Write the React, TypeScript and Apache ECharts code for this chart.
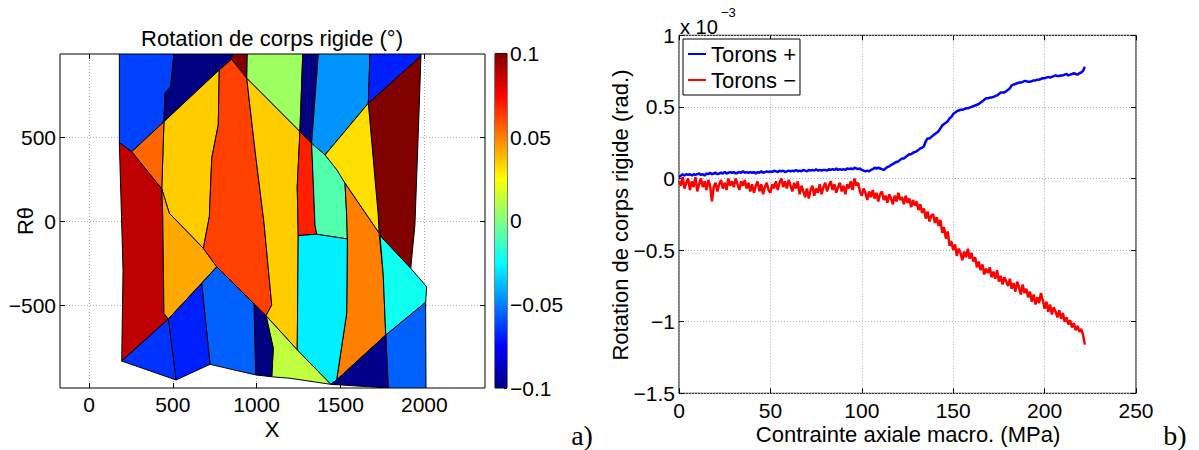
import React, { useEffect, useRef } from 'react';
import * as echarts from 'echarts';

// ---------- Right panel data (stress in MPa, rotation in 1e-3 rad) ----------
const stress = [
  0, 1, 2, 3, 4, 5, 6, 7, 8, 9,
  10, 11, 12, 13, 14, 15, 16, 17, 18, 19,
  20, 21, 22, 23, 24, 25, 26, 27, 28, 29,
  30, 31, 32, 33, 34, 35, 36, 37, 38, 39,
  40, 41, 42, 43, 44, 45, 46, 47, 48, 49,
  50, 51, 52, 53, 54, 55, 56, 57, 58, 59,
  60, 61, 62, 63, 64, 65, 66, 67, 68, 69,
  70, 71, 72, 73, 74, 75, 76, 77, 78, 79,
  80, 81, 82, 83, 84, 85, 86, 87, 88, 89,
  90, 91, 92, 93, 94, 95, 96, 97, 98, 99,
  100, 101, 102, 103, 104, 105, 106, 107, 108, 109,
  110, 111, 112, 113, 114, 115, 116, 117, 118, 119,
  120, 121, 122, 123, 124, 125, 126, 127, 128, 129,
  130, 131, 132, 133, 134, 135, 136, 137, 138, 139,
  140, 141, 142, 143, 144, 145, 146, 147, 148, 149,
  150, 151, 152, 153, 154, 155, 156, 157, 158, 159,
  160, 161, 162, 163, 164, 165, 166, 167, 168, 169,
  170, 171, 172, 173, 174, 175, 176, 177, 178, 179,
  180, 181, 182, 183, 184, 185, 186, 187, 188, 189,
  190, 191, 192, 193, 194, 195, 196, 197, 198, 199,
  200, 201, 202, 203, 204, 205, 206, 207, 208, 209,
  210, 211, 212, 213, 214, 215, 216, 217, 218, 219,
  220, 221, 222,
];
const toronsPlus = [
  0.01, 0.02, 0.03, 0.02, 0.03, 0.025, 0.03, 0.02, 0.03, 0.025,
  0.03, 0.035, 0.025, 0.03, 0.02, 0.035, 0.03, 0.04, 0.03, 0.035,
  0.04, 0.03, 0.035, 0.04, 0.035, 0.045, 0.035, 0.04, 0.045, 0.04,
  0.045, 0.035, 0.04, 0.045, 0.04, 0.05, 0.04, 0.045, 0.04, 0.045,
  0.04, 0.045, 0.035, 0.045, 0.04, 0.05, 0.04, 0.045, 0.05, 0.045,
  0.05, 0.045, 0.055, 0.05, 0.045, 0.055, 0.05, 0.055, 0.045, 0.05,
  0.055, 0.05, 0.055, 0.05, 0.06, 0.05, 0.055, 0.05, 0.06, 0.055,
  0.05, 0.06, 0.055, 0.06, 0.055, 0.065, 0.055, 0.06, 0.055, 0.06,
  0.06, 0.055, 0.065, 0.06, 0.065, 0.06, 0.07, 0.06, 0.065, 0.06,
  0.065, 0.06, 0.07, 0.065, 0.07, 0.065, 0.075, 0.07, 0.065, 0.07,
  0.06, 0.055, 0.05, 0.055, 0.05, 0.06, 0.065, 0.075, 0.07, 0.075,
  0.07, 0.065, 0.06, 0.07, 0.08, 0.085, 0.095, 0.1, 0.11, 0.115,
  0.12, 0.13, 0.14, 0.14, 0.15, 0.16, 0.17, 0.17, 0.18, 0.185,
  0.19, 0.2, 0.21, 0.215, 0.225, 0.26, 0.28, 0.28, 0.29, 0.3,
  0.31, 0.32, 0.33, 0.35, 0.37, 0.38, 0.39, 0.4, 0.42, 0.43,
  0.45, 0.46, 0.47, 0.475, 0.48, 0.48, 0.485, 0.49, 0.49, 0.495,
  0.5, 0.505, 0.51, 0.515, 0.52, 0.53, 0.54, 0.55, 0.56, 0.56,
  0.565, 0.565, 0.57, 0.575, 0.58, 0.59, 0.6, 0.6, 0.6, 0.61,
  0.62, 0.63, 0.65, 0.655, 0.66, 0.665, 0.67, 0.67, 0.675, 0.68,
  0.68, 0.675, 0.675, 0.68, 0.685, 0.685, 0.69, 0.69, 0.695, 0.7,
  0.7, 0.705, 0.71, 0.705, 0.71, 0.715, 0.72, 0.715, 0.715, 0.72,
  0.72, 0.725, 0.73, 0.72, 0.725, 0.73, 0.735, 0.73, 0.725, 0.735,
  0.74, 0.75, 0.78,
];
const toronsMinus = [
  -0.02, -0.05, 0.01, -0.07, -0.03, 0.0, -0.08, -0.02, -0.06, 0.01,
  -0.09, -0.04, 0.0, -0.06, -0.02, -0.08, -0.01, -0.05, -0.16, -0.06,
  -0.03, -0.09, -0.04, -0.01, -0.07, -0.03, -0.08, 0.0, -0.05, -0.02,
  -0.06, 0.0, -0.04, -0.08, -0.02, -0.05, -0.01, -0.07, -0.03, -0.09,
  -0.04, -0.1, -0.05, -0.02, -0.09, -0.04, -0.11, -0.06, -0.03, -0.08,
  -0.1, -0.04, -0.07, -0.02, -0.08, -0.03, 0.0, -0.06, -0.02, -0.07,
  -0.01, -0.05, -0.09, -0.03, -0.07, -0.02, -0.11, -0.05, -0.09, -0.13,
  -0.07, -0.14, -0.08, -0.05, -0.12, -0.07, -0.1, -0.04, -0.11, -0.06,
  -0.03, -0.09, -0.05, -0.02, -0.08, -0.04, -0.1, -0.06, -0.03, -0.09,
  -0.05, -0.11, -0.04, -0.07, -0.02, -0.08, 0.0, -0.05, -0.03, -0.09,
  -0.12, -0.07, -0.1, -0.15, -0.09, -0.13, -0.08, -0.14, -0.1, -0.16,
  -0.11, -0.09, -0.15, -0.12, -0.17, -0.11, -0.14, -0.18, -0.12, -0.16,
  -0.1, -0.15, -0.13, -0.18, -0.12, -0.17, -0.14, -0.2, -0.15, -0.19,
  -0.16, -0.22, -0.18, -0.24, -0.21, -0.28, -0.23, -0.3, -0.26, -0.25,
  -0.31, -0.27, -0.33, -0.29, -0.38, -0.34, -0.42, -0.37, -0.47, -0.44,
  -0.5, -0.46, -0.54, -0.49, -0.52, -0.57, -0.51, -0.55, -0.49, -0.56,
  -0.52, -0.58, -0.55, -0.62, -0.58, -0.64, -0.6, -0.67, -0.63, -0.66,
  -0.62, -0.69, -0.65, -0.7, -0.64, -0.72, -0.68, -0.74, -0.69, -0.72,
  -0.75, -0.7, -0.77, -0.73, -0.79, -0.72, -0.76, -0.81, -0.74, -0.8,
  -0.77, -0.83, -0.79, -0.86, -0.81, -0.88, -0.83, -0.87, -0.8, -0.85,
  -0.91, -0.86, -0.93, -0.88, -0.95, -0.9, -0.93, -0.97, -0.92, -0.98,
  -0.94, -1.0, -0.97, -1.02, -0.99, -1.04, -1.01, -1.06, -1.03, -1.07,
  -1.05, -1.09, -1.16,
];
const seriesNames = ['Torons +', 'Torons \u2212'];

// ---------- Left panel data (rigid body rotation per cell, in degrees) ----------
const mapXTicks = [0, 500, 1000, 1500, 2000];
const mapYTicks = [-500, 0, 500];
const CB_MIN = -0.1;
const CB_MAX = 0.1;
const cellValues = [
  -0.062, -0.1, 0.1, 0.035, 0.055, 0.0875, 0.042, 0.0625, 0.006, 0.035,
  -0.1, -0.046, -0.069, 0.1, 0.031, 0.069, -0.009, 0.05, -0.028, -0.022,
  -0.056, -0.098, 0.0125, -0.1, -0.056, -0.069, -0.065,
];
const cellVertices: number[][][] = [
  [[181, 997], [507, 997], [487, 802], [453, 763], [447, 593], [255, 414], [181, 468]],
  [[507, 997], [857, 997], [851, 965], [447, 593], [453, 763], [487, 802]],
  [[857, 997], [944, 997], [941, 852], [851, 965]],
  [[447, 593], [777, 902], [771, 574], [732, 375], [718, 27], [682, -162], [479, 47], [434, 192]],
  [[255, 414], [447, 593], [434, 192]],
  [[181, 468], [255, 414], [434, 192], [440, 37], [447, -550], [473, -584], [195, -834], [203, -291]],
  [[434, 192], [479, 47], [682, -162], [762, -272], [473, -584], [447, -550], [440, 37]],
  [[851, 965], [941, 852], [990, 425], [1044, -11], [1090, -500], [1056, -564], [762, -272], [682, -162], [718, 27], [732, 375], [771, 574], [777, 902]],
  [[944, 997], [1275, 997], [1258, 534], [941, 852]],
  [[941, 852], [1258, 534], [1242, 206], [1248, -86], [1242, -768], [1056, -564], [1090, -500], [1044, -11], [990, 425]],
  [[1275, 997], [1368, 997], [1328, 464], [1258, 534]],
  [[1368, 997], [1676, 997], [1666, 703], [1408, 395], [1328, 464]],
  [[1676, 997], [1980, 997], [1980, 985], [1666, 703]],
  [[1980, 985], [1964, 524], [1944, -23], [1919, -281], [1736, -87], [1725, 37], [1666, 703]],
  [[1666, 703], [1725, 37], [1730, -71], [1656, 37], [1527, 226], [1408, 395]],
  [[1258, 534], [1328, 464], [1348, -23], [1358, -78], [1248, -86], [1242, 206]],
  [[1328, 464], [1408, 395], [1479, 305], [1527, 226], [1537, 37], [1541, -106], [1358, -78], [1348, -23]],
  [[1527, 226], [1656, 37], [1730, -71], [1755, -321], [1770, -679], [1477, -947], [1537, -550], [1541, -106], [1537, 37]],
  [[1248, -86], [1358, -78], [1541, -106], [1537, -550], [1477, -947], [1442, -973], [1242, -768]],
  [[1736, -87], [1919, -281], [2014, -391], [2008, -484], [1770, -679], [1755, -321]],
  [[1770, -679], [2008, -484], [2010, -995], [1785, -995]],
  [[1442, -973], [1477, -947], [1770, -679], [1785, -995]],
  [[1056, -564], [1242, -768], [1442, -973], [1199, -937], [1090, -928], [1099, -758]],
  [[984, -494], [1056, -564], [1099, -758], [1090, -928], [994, -917]],
  [[762, -272], [984, -494], [994, -917], [722, -854], [672, -371]],
  [[473, -584], [672, -371], [722, -854], [519, -947]],
  [[195, -834], [473, -584], [519, -947]],
];

const FONT = '"Liberation Sans", Arial, Helvetica, sans-serif';
const SERIF = '"Liberation Serif", "DejaVu Serif", serif';
const fmt = (v: number) => (v < 0 ? '\u2212' + String(Math.abs(v)) : String(v));

function jet(v: number): string {
  const t = Math.max(0, Math.min(1, (v - CB_MIN) / (CB_MAX - CB_MIN)));
  const c = (x: number) => Math.round(255 * Math.max(0, Math.min(1, x)));
  const r = c(Math.min(4 * t - 1.5, -4 * t + 4.5));
  const g = c(Math.min(4 * t - 0.5, -4 * t + 3.5));
  const b = c(Math.min(4 * t + 0.5, -4 * t + 2.5));
  return `rgb(${r},${g},${b})`;
}

const gridLine = { show: true, lineStyle: { color: '#b0b0b0', type: [1, 2] as any, width: 1 } };
const tickStyle = { show: true, inside: true, length: 5, lineStyle: { color: '#000', width: 1 } };
const labelStyle = { color: '#000', fontSize: 21, fontFamily: FONT };
const noLine = { show: false, onZero: false };

export default function App() {
  const ref = useRef<HTMLDivElement>(null);
  useEffect(() => {
    if (!ref.current) return;
    const chart = echarts.init(ref.current, null, { renderer: 'svg' });
    const option: any = {
      animation: false,
      backgroundColor: '#fff',
      grid: [
        { left: 60, top: 54, width: 425, height: 334, show: true, borderColor: '#000', borderWidth: 1, backgroundColor: '#fff' },
        { left: 495, top: 53.5, width: 12, height: 334.5, show: true, borderColor: '#000', borderWidth: 1 },
        { left: 679, top: 35.3, width: 457, height: 358, show: true, borderColor: '#000', borderWidth: 1, backgroundColor: '#fff' },
      ],
      xAxis: [
        {
          type: 'value', gridIndex: 0, min: -173, max: 2362, position: 'bottom',
          axisLine: noLine,
          axisTick: { ...tickStyle, customValues: mapXTicks },
          axisLabel: { ...labelStyle, customValues: mapXTicks, margin: 6, formatter: fmt },
          splitLine: { ...gridLine },
        },
        {
          type: 'value', gridIndex: 0, min: -173, max: 2362, position: 'top',
          axisLine: noLine,
          axisTick: { ...tickStyle, customValues: mapXTicks },
          axisLabel: { show: false },
          splitLine: { show: false },
        },
        {
          type: 'value', gridIndex: 1, min: 0, max: 1, show: false, axisLine: noLine,
        },
        {
          type: 'value', gridIndex: 2, min: 0, max: 250, interval: 50, position: 'bottom',
          axisLine: noLine,
          axisTick: { ...tickStyle },
          axisLabel: { ...labelStyle, margin: 7, showMinLabel: true, showMaxLabel: true },
          splitLine: { ...gridLine },
        },
        {
          type: 'value', gridIndex: 2, min: 0, max: 250, interval: 50, position: 'top',
          axisLine: noLine,
          axisTick: { ...tickStyle },
          axisLabel: { show: false },
          splitLine: { show: false },
        },
      ],
      yAxis: [
        {
          type: 'value', gridIndex: 0, min: -995, max: 997, position: 'left',
          axisLine: noLine,
          axisTick: { ...tickStyle, customValues: mapYTicks },
          axisLabel: { ...labelStyle, customValues: mapYTicks, margin: 4, formatter: fmt },
          splitLine: { ...gridLine },
        },
        {
          type: 'value', gridIndex: 0, min: -995, max: 997, position: 'right',
          axisLine: noLine,
          axisTick: { ...tickStyle, customValues: mapYTicks },
          axisLabel: { show: false },
          splitLine: { show: false },
        },
        {
          type: 'value', gridIndex: 1, min: CB_MIN, max: CB_MAX, interval: 0.05, position: 'right',
          axisLine: noLine,
          axisTick: { show: true, inside: true, length: 3, lineStyle: { color: '#000' } },
          axisLabel: { ...labelStyle, margin: 3, formatter: fmt, showMinLabel: true, showMaxLabel: true, padding: [5, 0, 0, 0] },
          splitLine: { show: false },
        },
        {
          type: 'value', gridIndex: 2, min: -1.5, max: 1, interval: 0.5, position: 'left',
          axisLine: noLine,
          axisTick: { ...tickStyle },
          axisLabel: { ...labelStyle, margin: 4, formatter: fmt, showMinLabel: true, showMaxLabel: true },
          splitLine: { ...gridLine },
        },
        {
          type: 'value', gridIndex: 2, min: -1.5, max: 1, interval: 0.5, position: 'right',
          axisLine: noLine,
          axisTick: { ...tickStyle },
          axisLabel: { show: false },
          splitLine: { show: false },
        },
      ],
      legend: {
        orient: 'vertical', left: 683, top: 39, padding: [4, 4, 4, 5], itemGap: 4,
        itemWidth: 18, itemHeight: 2,
        borderColor: '#000', borderWidth: 1, backgroundColor: '#fff',
        textStyle: { fontSize: 22, fontFamily: FONT, color: '#000' },
        data: [{ name: seriesNames[0], icon: 'rect' }, { name: seriesNames[1], icon: 'rect' }],
      },
      series: [
        {
          type: 'custom', name: 'cells', xAxisIndex: 0, yAxisIndex: 0, clip: true,
          data: cellValues.map((v, i) => [i, v]),
          renderItem: (params: any, api: any) => {
            const idx = params.dataIndex;
            const pts = cellVertices[idx].map((p) => api.coord(p));
            return {
              type: 'polygon',
              shape: { points: pts },
              style: { fill: jet(cellValues[idx]), stroke: '#000', lineWidth: 1 },
            };
          },
        },
        {
          type: 'custom', name: 'colorbar', xAxisIndex: 2, yAxisIndex: 2, silent: true,
          data: [[0, CB_MIN, 1, CB_MAX]],
          renderItem: (_params: any, api: any) => {
            const a = api.coord([api.value(0), api.value(3)]);
            const b = api.coord([api.value(2), api.value(1)]);
            return {
              type: 'rect',
              shape: { x: a[0], y: a[1], width: b[0] - a[0], height: b[1] - a[1] },
              style: {
                fill: new echarts.graphic.LinearGradient(0, 0, 0, 1, [
                  { offset: 0, color: jet(CB_MAX) },
                  { offset: 0.125, color: jet(0.075) },
                  { offset: 0.375, color: jet(0.025) },
                  { offset: 0.625, color: jet(-0.025) },
                  { offset: 0.875, color: jet(-0.075) },
                  { offset: 1, color: jet(CB_MIN) },
                ]),
              },
            };
          },
        },
        {
          type: 'line', name: seriesNames[0], xAxisIndex: 3, yAxisIndex: 3,
          data: stress.map((s, i) => [s, toronsPlus[i]]),
          showSymbol: false, color: '#0000ff', lineStyle: { width: 2.5, color: '#0000ff' },
        },
        {
          type: 'line', name: seriesNames[1], xAxisIndex: 3, yAxisIndex: 3,
          data: stress.map((s, i) => [s, toronsMinus[i]]),
          showSymbol: false, color: '#ff0000', lineStyle: { width: 2.5, color: '#ff0000' },
        },
      ],
      graphic: [
        { type: 'text', x: 272, y: 38, style: { text: 'Rotation de corps rigide (\u00b0)', font: `22px ${FONT}`, fill: '#000', align: 'center', verticalAlign: 'middle' } },
        { type: 'text', x: 272, y: 429, style: { text: 'X', font: `22px ${FONT}`, fill: '#000', align: 'center', verticalAlign: 'middle' } },
        { type: 'text', x: 25, y: 221, rotation: Math.PI / 2, style: { text: 'R\u03b8', font: `22px ${FONT}`, fill: '#000', align: 'center', verticalAlign: 'middle' } },
        { type: 'text', x: 620, y: 215, rotation: Math.PI / 2, style: { text: 'Rotation de corps rigide (rad.)', font: `22px ${FONT}`, fill: '#000', align: 'center', verticalAlign: 'middle' } },
        { type: 'text', x: 908, y: 434, style: { text: 'Contrainte axiale macro. (MPa)', font: `22px ${FONT}`, fill: '#000', align: 'center', verticalAlign: 'middle' } },
        { type: 'text', x: 680, y: 27, style: { text: 'x 10', font: `20px ${FONT}`, fill: '#000', align: 'left', verticalAlign: 'middle' } },
        { type: 'text', x: 721, y: 12, style: { text: '\u22123', font: `13px ${FONT}`, fill: '#000', align: 'left', verticalAlign: 'middle' } },
        { type: 'text', x: 582, y: 435, style: { text: 'a)', font: `28px ${SERIF}`, fill: '#000', align: 'center', verticalAlign: 'middle' } },
        { type: 'text', x: 1175, y: 435, style: { text: 'b)', font: `28px ${SERIF}`, fill: '#000', align: 'center', verticalAlign: 'middle' } },
      ],
    };
    chart.setOption(option);
    return () => chart.dispose();
  }, []);
  return <div ref={ref} style={{ position: 'fixed', left: 0, top: 0, width: 1199, height: 450 }} />;
}
